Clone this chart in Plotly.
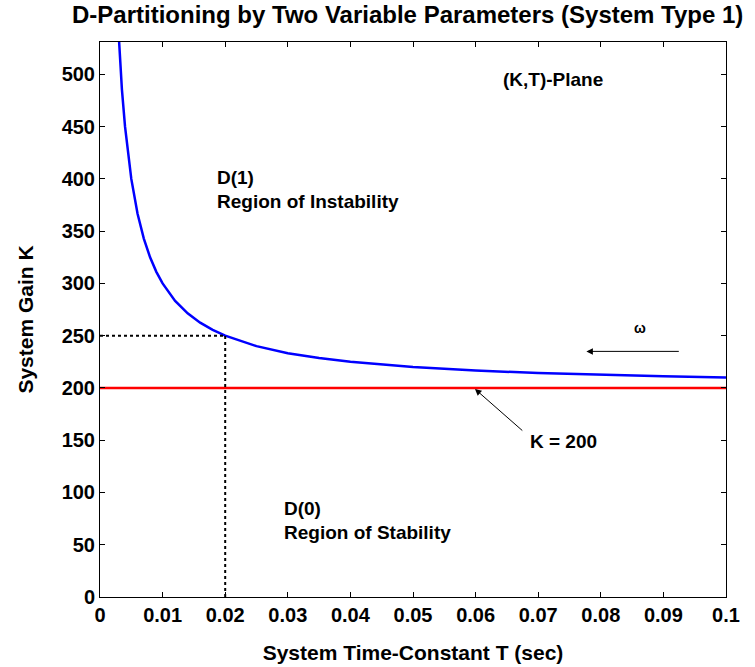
import plotly.graph_objects as go

# Curve data: system time-constant T (sec) vs system gain K on the D-partition boundary
T_vals = [0.0028, 0.003, 0.0035, 0.004, 0.0045, 0.005, 0.006, 0.007, 0.008, 0.009, 0.010,
          0.012, 0.014, 0.016, 0.018, 0.020, 0.025, 0.030, 0.035, 0.040, 0.050, 0.060,
          0.070, 0.080, 0.090, 0.100]
K_vals = [557.1, 533.3, 485.7, 450.0, 422.2, 400.0, 366.7, 342.9, 325.0, 311.1, 300.0,
          283.3, 271.4, 262.5, 255.6, 250.0, 240.0, 233.3, 228.6, 225.0, 220.0, 216.7,
          214.3, 212.5, 211.1, 210.0]

K_limit = 200
T_mark = 0.02
K_mark = 250

x_ticks = [0, 0.01, 0.02, 0.03, 0.04, 0.05, 0.06, 0.07, 0.08, 0.09, 0.1]
x_tick_labels = ["0", "0.01", "0.02", "0.03", "0.04", "0.05", "0.06", "0.07", "0.08", "0.09", "0.1"]
y_ticks = [0, 50, 100, 150, 200, 250, 300, 350, 400, 450, 500]

FONT = "Liberation Sans"

fig = go.Figure()

fig.add_trace(go.Scatter(x=T_vals, y=K_vals, mode="lines",
                         line=dict(color="#0000ff", width=2.5), showlegend=False))
fig.add_trace(go.Scatter(x=[0, 0.1], y=[K_limit, K_limit], mode="lines",
                         line=dict(color="#ff0000", width=2.5), showlegend=False))
fig.add_trace(go.Scatter(x=[0, T_mark], y=[K_mark, K_mark], mode="lines",
                         line=dict(color="black", width=2, dash="dot"), showlegend=False))
fig.add_trace(go.Scatter(x=[T_mark, T_mark], y=[0, K_mark], mode="lines",
                         line=dict(color="black", width=2, dash="dot"), showlegend=False))

tfont = dict(family=FONT, size=19, color="black")

def label(x, y, text):
    fig.add_annotation(x=x, y=y, text="<b>%s</b>" % text, showarrow=False,
                       xanchor="left", yanchor="middle", font=tfont)

label(0.0640, 495, "(K,T)-Plane")
label(0.0184, 401, "D(1)")
label(0.0184, 378, "Region of Instability")
label(0.0290, 85, "D(0)")
label(0.0290, 62, "Region of Stability")
label(0.0683, 149, "K = 200")
fig.add_annotation(x=0.0850, y=257, text="<b>ω</b>", showarrow=False,
                   xanchor="left", yanchor="middle", font=dict(family=FONT, size=14, color="black"))

# arrows
fig.add_annotation(x=0.0599, y=199, ax=0.0677, ay=158, xref="x", yref="y", axref="x", ayref="y",
                   text="", showarrow=True, arrowhead=2, arrowsize=1.3, arrowwidth=1, arrowcolor="black")
fig.add_annotation(x=0.0777, y=235, ax=0.0927, ay=235, xref="x", yref="y", axref="x", ayref="y",
                   text="", showarrow=True, arrowhead=2, arrowsize=1.3, arrowwidth=1, arrowcolor="black")

axis_common = dict(showgrid=False, zeroline=False, showline=True, linecolor="black", linewidth=1,
                   mirror="ticks", ticks="inside", ticklen=5, tickcolor="black", automargin=False,
                   tickfont=dict(family=FONT, size=20, color="black"))

fig.update_xaxes(range=[0, 0.1], tickvals=x_ticks, ticktext=["<b>%s</b>" % t for t in x_tick_labels],
                 title=dict(text="<b>System Time-Constant T (sec)</b>",
                            font=dict(family=FONT, size=21, color="black"), standoff=20),
                 **axis_common)
fig.update_yaxes(range=[0, 531], tickvals=y_ticks, ticktext=["<b>%d</b>" % t for t in y_ticks],
                 title=dict(text="<b>System Gain K</b>",
                            font=dict(family=FONT, size=21, color="black"), standoff=22),
                 **axis_common)

fig.update_layout(
    width=755, height=667,
    margin=dict(l=100, r=29, t=42, b=70),
    paper_bgcolor="white", plot_bgcolor="white",
    title=dict(text="<b>D-Partitioning by Two Variable Parameters (System Type 1)</b>",
               font=dict(family=FONT, size=24, color="black"),
               x=0.54, xanchor="center", y=0.99, yanchor="top"),
)

fig.write_html("out.html")
